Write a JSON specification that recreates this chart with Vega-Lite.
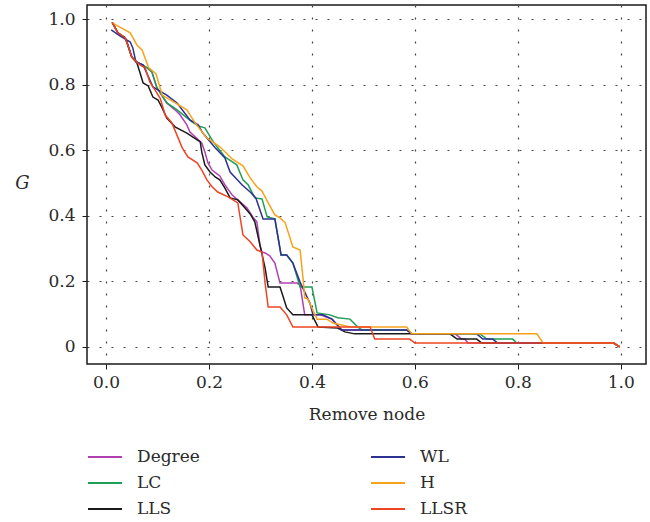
{
  "$schema": "https://vega.github.io/schema/vega-lite/v6.json",
  "width": 559,
  "height": 359,
  "autosize": {"type": "none"},
  "padding": {"left": 87, "top": 5, "right": 4, "bottom": 158},
  "background": "white",
  "config": {
    "view": {"stroke": "#1a1a1a", "strokeWidth": 1.5},
    "font": "DejaVu Serif"
  },
  "datasets": {
    "curves": [
      {"s":"Degree","x":0.012,"y":0.991},{"s":"Degree","x":0.023,"y":0.959},{"s":"Degree","x":0.037,"y":0.944},{"s":"Degree","x":0.041,"y":0.928},{"s":"Degree","x":0.050,"y":0.885},{"s":"Degree","x":0.060,"y":0.870},{"s":"Degree","x":0.080,"y":0.852},{"s":"Degree","x":0.089,"y":0.840},{"s":"Degree","x":0.099,"y":0.791},{"s":"Degree","x":0.118,"y":0.745},{"s":"Degree","x":0.134,"y":0.724},{"s":"Degree","x":0.144,"y":0.708},{"s":"Degree","x":0.157,"y":0.678},{"s":"Degree","x":0.163,"y":0.656},{"s":"Degree","x":0.186,"y":0.623},{"s":"Degree","x":0.192,"y":0.595},{"s":"Degree","x":0.198,"y":0.562},{"s":"Degree","x":0.206,"y":0.540},{"s":"Degree","x":0.221,"y":0.522},{"s":"Degree","x":0.231,"y":0.495},{"s":"Degree","x":0.245,"y":0.464},{"s":"Degree","x":0.256,"y":0.449},{"s":"Degree","x":0.274,"y":0.424},{"s":"Degree","x":0.285,"y":0.397},{"s":"Degree","x":0.293,"y":0.382},{"s":"Degree","x":0.299,"y":0.311},{"s":"Degree","x":0.303,"y":0.290},{"s":"Degree","x":0.309,"y":0.287},{"s":"Degree","x":0.318,"y":0.278},{"s":"Degree","x":0.328,"y":0.256},{"s":"Degree","x":0.338,"y":0.195},{"s":"Degree","x":0.371,"y":0.195},{"s":"Degree","x":0.377,"y":0.189},{"s":"Degree","x":0.386,"y":0.098},{"s":"Degree","x":0.416,"y":0.098},{"s":"Degree","x":0.439,"y":0.085},{"s":"Degree","x":0.458,"y":0.052},{"s":"Degree","x":0.584,"y":0.052},{"s":"Degree","x":0.594,"y":0.040},{"s":"Degree","x":0.678,"y":0.040},{"s":"Degree","x":0.691,"y":0.024},{"s":"Degree","x":0.697,"y":0.024},{"s":"Degree","x":0.703,"y":0.012},{"s":"Degree","x":0.986,"y":0.012},{"s":"Degree","x":0.998,"y":0.0},

      {"s":"LC","x":0.012,"y":0.991},{"s":"LC","x":0.023,"y":0.959},{"s":"LC","x":0.037,"y":0.944},{"s":"LC","x":0.041,"y":0.928},{"s":"LC","x":0.050,"y":0.885},{"s":"LC","x":0.060,"y":0.870},{"s":"LC","x":0.080,"y":0.852},{"s":"LC","x":0.089,"y":0.840},{"s":"LC","x":0.099,"y":0.791},{"s":"LC","x":0.118,"y":0.745},{"s":"LC","x":0.138,"y":0.724},{"s":"LC","x":0.167,"y":0.687},{"s":"LC","x":0.179,"y":0.675},{"s":"LC","x":0.192,"y":0.669},{"s":"LC","x":0.206,"y":0.632},{"s":"LC","x":0.217,"y":0.608},{"s":"LC","x":0.231,"y":0.580},{"s":"LC","x":0.254,"y":0.556},{"s":"LC","x":0.266,"y":0.510},{"s":"LC","x":0.276,"y":0.495},{"s":"LC","x":0.289,"y":0.455},{"s":"LC","x":0.303,"y":0.452},{"s":"LC","x":0.313,"y":0.397},{"s":"LC","x":0.328,"y":0.391},{"s":"LC","x":0.340,"y":0.281},{"s":"LC","x":0.351,"y":0.281},{"s":"LC","x":0.363,"y":0.256},{"s":"LC","x":0.377,"y":0.183},{"s":"LC","x":0.400,"y":0.183},{"s":"LC","x":0.410,"y":0.104},{"s":"LC","x":0.435,"y":0.098},{"s":"LC","x":0.450,"y":0.089},{"s":"LC","x":0.474,"y":0.085},{"s":"LC","x":0.489,"y":0.061},{"s":"LC","x":0.497,"y":0.052},{"s":"LC","x":0.584,"y":0.052},{"s":"LC","x":0.594,"y":0.040},{"s":"LC","x":0.726,"y":0.040},{"s":"LC","x":0.740,"y":0.024},{"s":"LC","x":0.790,"y":0.024},{"s":"LC","x":0.798,"y":0.012},{"s":"LC","x":0.986,"y":0.012},{"s":"LC","x":0.998,"y":0.0},

      {"s":"LLS","x":0.012,"y":0.991},{"s":"LLS","x":0.023,"y":0.959},{"s":"LLS","x":0.037,"y":0.944},{"s":"LLS","x":0.041,"y":0.928},{"s":"LLS","x":0.050,"y":0.885},{"s":"LLS","x":0.060,"y":0.867},{"s":"LLS","x":0.066,"y":0.837},{"s":"LLS","x":0.072,"y":0.806},{"s":"LLS","x":0.082,"y":0.797},{"s":"LLS","x":0.091,"y":0.763},{"s":"LLS","x":0.101,"y":0.754},{"s":"LLS","x":0.109,"y":0.730},{"s":"LLS","x":0.118,"y":0.699},{"s":"LLS","x":0.134,"y":0.672},{"s":"LLS","x":0.157,"y":0.653},{"s":"LLS","x":0.183,"y":0.626},{"s":"LLS","x":0.186,"y":0.595},{"s":"LLS","x":0.192,"y":0.556},{"s":"LLS","x":0.202,"y":0.534},{"s":"LLS","x":0.212,"y":0.519},{"s":"LLS","x":0.221,"y":0.510},{"s":"LLS","x":0.231,"y":0.485},{"s":"LLS","x":0.241,"y":0.455},{"s":"LLS","x":0.256,"y":0.449},{"s":"LLS","x":0.270,"y":0.424},{"s":"LLS","x":0.280,"y":0.406},{"s":"LLS","x":0.289,"y":0.382},{"s":"LLS","x":0.299,"y":0.311},{"s":"LLS","x":0.309,"y":0.241},{"s":"LLS","x":0.315,"y":0.183},{"s":"LLS","x":0.338,"y":0.183},{"s":"LLS","x":0.351,"y":0.119},{"s":"LLS","x":0.363,"y":0.098},{"s":"LLS","x":0.400,"y":0.098},{"s":"LLS","x":0.412,"y":0.061},{"s":"LLS","x":0.450,"y":0.058},{"s":"LLS","x":0.464,"y":0.046},{"s":"LLS","x":0.483,"y":0.040},{"s":"LLS","x":0.668,"y":0.040},{"s":"LLS","x":0.682,"y":0.024},{"s":"LLS","x":0.720,"y":0.024},{"s":"LLS","x":0.730,"y":0.012},{"s":"LLS","x":0.986,"y":0.012},{"s":"LLS","x":0.998,"y":0.0},

      {"s":"WL","x":0.010,"y":0.968},{"s":"WL","x":0.027,"y":0.950},{"s":"WL","x":0.047,"y":0.931},{"s":"WL","x":0.052,"y":0.913},{"s":"WL","x":0.058,"y":0.870},{"s":"WL","x":0.072,"y":0.861},{"s":"WL","x":0.091,"y":0.794},{"s":"WL","x":0.118,"y":0.769},{"s":"WL","x":0.138,"y":0.745},{"s":"WL","x":0.163,"y":0.693},{"s":"WL","x":0.179,"y":0.678},{"s":"WL","x":0.188,"y":0.653},{"s":"WL","x":0.212,"y":0.608},{"s":"WL","x":0.231,"y":0.577},{"s":"WL","x":0.241,"y":0.534},{"s":"WL","x":0.250,"y":0.519},{"s":"WL","x":0.264,"y":0.495},{"s":"WL","x":0.280,"y":0.473},{"s":"WL","x":0.291,"y":0.455},{"s":"WL","x":0.305,"y":0.391},{"s":"WL","x":0.328,"y":0.391},{"s":"WL","x":0.340,"y":0.281},{"s":"WL","x":0.351,"y":0.281},{"s":"WL","x":0.363,"y":0.256},{"s":"WL","x":0.377,"y":0.198},{"s":"WL","x":0.396,"y":0.134},{"s":"WL","x":0.402,"y":0.098},{"s":"WL","x":0.421,"y":0.098},{"s":"WL","x":0.439,"y":0.085},{"s":"WL","x":0.458,"y":0.052},{"s":"WL","x":0.584,"y":0.052},{"s":"WL","x":0.594,"y":0.040},{"s":"WL","x":0.720,"y":0.040},{"s":"WL","x":0.732,"y":0.024},{"s":"WL","x":0.751,"y":0.024},{"s":"WL","x":0.761,"y":0.012},{"s":"WL","x":0.986,"y":0.012},{"s":"WL","x":0.998,"y":0.0},

      {"s":"H","x":0.011,"y":0.990},{"s":"H","x":0.047,"y":0.959},{"s":"H","x":0.060,"y":0.922},{"s":"H","x":0.070,"y":0.907},{"s":"H","x":0.083,"y":0.852},{"s":"H","x":0.097,"y":0.834},{"s":"H","x":0.109,"y":0.769},{"s":"H","x":0.157,"y":0.724},{"s":"H","x":0.173,"y":0.684},{"s":"H","x":0.194,"y":0.641},{"s":"H","x":0.221,"y":0.611},{"s":"H","x":0.245,"y":0.574},{"s":"H","x":0.266,"y":0.553},{"s":"H","x":0.280,"y":0.516},{"s":"H","x":0.293,"y":0.489},{"s":"H","x":0.303,"y":0.476},{"s":"H","x":0.315,"y":0.440},{"s":"H","x":0.328,"y":0.403},{"s":"H","x":0.338,"y":0.394},{"s":"H","x":0.348,"y":0.379},{"s":"H","x":0.363,"y":0.305},{"s":"H","x":0.377,"y":0.296},{"s":"H","x":0.383,"y":0.205},{"s":"H","x":0.386,"y":0.150},{"s":"H","x":0.392,"y":0.147},{"s":"H","x":0.400,"y":0.119},{"s":"H","x":0.410,"y":0.085},{"s":"H","x":0.429,"y":0.085},{"s":"H","x":0.441,"y":0.073},{"s":"H","x":0.474,"y":0.061},{"s":"H","x":0.584,"y":0.061},{"s":"H","x":0.594,"y":0.040},{"s":"H","x":0.837,"y":0.040},{"s":"H","x":0.849,"y":0.012},{"s":"H","x":0.986,"y":0.012},{"s":"H","x":0.998,"y":0.0},

      {"s":"LLSR","x":0.012,"y":0.991},{"s":"LLSR","x":0.023,"y":0.959},{"s":"LLSR","x":0.037,"y":0.944},{"s":"LLSR","x":0.041,"y":0.928},{"s":"LLSR","x":0.050,"y":0.885},{"s":"LLSR","x":0.060,"y":0.870},{"s":"LLSR","x":0.066,"y":0.861},{"s":"LLSR","x":0.076,"y":0.852},{"s":"LLSR","x":0.085,"y":0.809},{"s":"LLSR","x":0.095,"y":0.785},{"s":"LLSR","x":0.105,"y":0.760},{"s":"LLSR","x":0.115,"y":0.708},{"s":"LLSR","x":0.128,"y":0.684},{"s":"LLSR","x":0.148,"y":0.608},{"s":"LLSR","x":0.159,"y":0.580},{"s":"LLSR","x":0.177,"y":0.562},{"s":"LLSR","x":0.186,"y":0.540},{"s":"LLSR","x":0.196,"y":0.510},{"s":"LLSR","x":0.206,"y":0.489},{"s":"LLSR","x":0.217,"y":0.473},{"s":"LLSR","x":0.237,"y":0.458},{"s":"LLSR","x":0.256,"y":0.440},{"s":"LLSR","x":0.266,"y":0.342},{"s":"LLSR","x":0.280,"y":0.321},{"s":"LLSR","x":0.293,"y":0.296},{"s":"LLSR","x":0.303,"y":0.290},{"s":"LLSR","x":0.309,"y":0.195},{"s":"LLSR","x":0.315,"y":0.122},{"s":"LLSR","x":0.338,"y":0.122},{"s":"LLSR","x":0.351,"y":0.098},{"s":"LLSR","x":0.363,"y":0.061},{"s":"LLSR","x":0.513,"y":0.061},{"s":"LLSR","x":0.522,"y":0.024},{"s":"LLSR","x":0.590,"y":0.024},{"s":"LLSR","x":0.600,"y":0.012},{"s":"LLSR","x":0.986,"y":0.012},{"s":"LLSR","x":0.998,"y":0.0}
    ]
  },
  "data": {"name": "curves"},
  "mark": {"type": "line", "strokeWidth": 1.5, "clip": true},
  "encoding": {
    "x": {
      "field": "x", "type": "quantitative",
      "scale": {"domain": [-0.037, 1.049], "nice": false, "zero": false},
      "axis": {
        "values": [0, 0.2, 0.4, 0.6, 0.8, 1.0],
        "format": ".1f",
        "domain": false,
        "grid": true, "gridColor": "#444", "gridDash": [2, 10], "gridWidth": 1.2, "gridOpacity": 1,
        "ticks": true, "tickSize": 5, "tickColor": "#1a1a1a", "tickWidth": 1,
        "labelFont": "DejaVu Serif", "labelFontSize": 17, "labelColor": "#2a2a2a", "labelPadding": 5,
        "title": "Remove node",
        "titleFont": "DejaVu Serif", "titleFontSize": 17, "titleFontWeight": "normal", "titleColor": "#2a2a2a",
        "titleY": 55, "titleBaseline": "alphabetic"
      }
    },
    "y": {
      "field": "y", "type": "quantitative",
      "scale": {"domain": [-0.052, 1.044], "nice": false, "zero": false},
      "axis": {
        "values": [0, 0.2, 0.4, 0.6, 0.8, 1.0],
        "labelExpr": "datum.value == 0 ? '0' : format(datum.value, '.1f')",
        "domain": false,
        "grid": true, "gridColor": "#444", "gridDash": [2, 10], "gridWidth": 1.2, "gridOpacity": 1,
        "ticks": true, "tickSize": 5, "tickColor": "#1a1a1a", "tickWidth": 1,
        "labelFont": "DejaVu Serif", "labelFontSize": 17, "labelColor": "#2a2a2a", "labelPadding": 7,
        "title": "G",
        "titleFont": "DejaVu Serif", "titleFontSize": 18, "titleFontStyle": "italic", "titleFontWeight": "normal", "titleColor": "#2a2a2a",
        "titleAngle": 0, "titleX": -65, "titleY": 178, "titleAlign": "center", "titleBaseline": "middle"
      }
    },
    "color": {
      "field": "s", "type": "nominal",
      "sort": ["Degree", "LC", "LLS", "WL", "H", "LLSR"],
      "scale": {
        "domain": ["Degree", "LC", "LLS", "WL", "H", "LLSR"],
        "range": ["#b040b0", "#1f9e55", "#1a1a1a", "#2e3192", "#f7a21b", "#ee4424"]
      },
      "legend": {
        "title": null,
        "orient": "none",
        "legendX": 0,
        "legendY": 434,
        "columns": 2,
        "columnPadding": 167,
        "rowPadding": -8,
        "symbolType": "stroke",
        "symbolSize": 1156,
        "symbolStrokeWidth": 2,
        "labelOffset": 14,
        "labelFont": "DejaVu Serif",
        "labelFontSize": 17,
        "labelColor": "#2a2a2a"
      }
    }
  }
}
